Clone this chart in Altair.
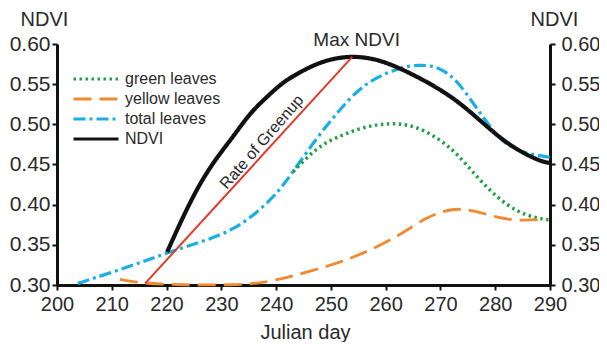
import altair as alt
import pandas as pd

# ---- data ----
ndvi_day = [220.1, 223.0, 226.1, 229.2, 232.1, 235.2, 238.3, 241.3, 244.4, 247.5, 251.1,
            254.8, 259.0, 263.2, 268.1, 273.0, 277.2, 281.4, 285.1, 288.7, 290.0]
ndvi_val = [0.341, 0.385, 0.427, 0.459, 0.484, 0.514, 0.534, 0.553, 0.565, 0.576, 0.583,
            0.585, 0.580, 0.568, 0.551, 0.530, 0.505, 0.480, 0.464, 0.453, 0.452]

total_day = [203.8, 209.7, 215.7, 220.1, 226.1, 232.1, 236.5, 240.2, 243.1, 247.5, 251.1,
             255.9, 262.1, 266.3, 269.9, 273.0, 275.9, 278.5, 281.4, 285.1, 290.0]
total_val = [0.302, 0.315, 0.329, 0.340, 0.353, 0.368, 0.390, 0.414, 0.441, 0.484, 0.514,
             0.551, 0.570, 0.575, 0.571, 0.555, 0.527, 0.502, 0.477, 0.464, 0.459]

green_day = [243.1, 247.5, 251.1, 255.9, 260.8, 265.0, 269.4, 273.0, 276.7, 280.3, 284.0, 287.6, 290.0]
green_val = [0.441, 0.472, 0.484, 0.497, 0.502, 0.499, 0.484, 0.464, 0.434, 0.409, 0.391, 0.383, 0.381]

yellow_day = [211.5, 215.7, 223.0, 232.1, 237.1, 242.5, 250.4, 256.6, 262.6, 267.5, 272.3,
              275.9, 280.9, 284.5, 289.4]
yellow_val = [0.307, 0.302, 0.300, 0.300, 0.302, 0.310, 0.325, 0.341, 0.362, 0.385, 0.396,
              0.393, 0.383, 0.380, 0.382]

greenup_day = [216.1, 253.9]
greenup_val = [0.302, 0.584]

series_order = ["green leaves", "yellow leaves", "total leaves", "NDVI"]
series_colors = ["#22a043", "#f08a32", "#1aaee6", "#111111"]
series_dash = [[2.5, 3.5], [18, 8], [12, 4, 3, 4], [1, 0]]
series_width = [3.5, 2.8, 3.2, 4.2]

y_ticks = [0.30, 0.35, 0.40, 0.45, 0.50, 0.55, 0.60]
x_ticks = [200, 210, 220, 230, 240, 250, 260, 270, 280, 290]

annot_text = ["Max NDVI", "Rate of Greenup"]
annot_day = [254.7, 237.4]
annot_val = [0.605, 0.478]

# ---- tables ----
rows = []
for name, d, v in [("NDVI", ndvi_day, ndvi_val), ("total leaves", total_day, total_val),
                   ("green leaves", green_day, green_val), ("yellow leaves", yellow_day, yellow_val)]:
    for dd, vv in zip(d, v):
        rows.append({"series": name, "day": dd, "ndvi": vv})
df = pd.DataFrame(rows)
df_red = pd.DataFrame({"day": greenup_day, "ndvi": greenup_val})
df_max = pd.DataFrame({"t": [annot_text[0]], "day": [annot_day[0]], "ndvi": [annot_val[0]]})
df_rate = pd.DataFrame({"t": [annot_text[1]], "day": [annot_day[1]], "ndvi": [annot_val[1]]})

FONT = "Liberation Sans"
TXT = "#2a2a2a"

xscale = alt.Scale(domain=[200, 290], nice=False, zero=False)
yscale = alt.Scale(domain=[0.30, 0.60], nice=False, zero=False)

x_enc = alt.X("day:Q", scale=xscale,
              axis=alt.Axis(values=x_ticks, title="Julian day", labelFontSize=20,
                            labelFlush=False, titleX=248, titleY=53, titleAlign="center",
                            titleBaseline="alphabetic", labelPadding=4))
y_plain = alt.Y("ndvi:Q", scale=yscale, axis=None)

legend = alt.Legend(title=None, orient="none", legendX=28, legendY=24,
                    symbolType="M-2.5,0H2.5", symbolSize=324, labelFontSize=16,
                    labelFont=FONT, labelColor=TXT, labelOffset=18, rowPadding=1,
                    padding=0, symbolStrokeWidth=3.2)

color_enc = alt.Color("series:N", scale=alt.Scale(domain=series_order, range=series_colors),
                      legend=legend)
dash_enc = alt.StrokeDash("series:N", scale=alt.Scale(domain=series_order, range=series_dash),
                          legend=legend)

layers = []
for name, w in zip(["total leaves", "green leaves", "yellow leaves", "NDVI"],
                   [series_width[2], series_width[0], series_width[1], series_width[3]]):
    layers.append(
        alt.Chart(df).transform_filter(alt.datum.series == name)
        .mark_line(interpolate="basis", strokeWidth=w, strokeCap="butt")
        .encode(x=x_enc, y=y_plain, color=color_enc, strokeDash=dash_enc, order=alt.Order("day:Q"))
    )

red = alt.Chart(df_red).mark_line(color="#e23a28", strokeWidth=2).encode(x=x_enc, y=y_plain)

max_txt = alt.Chart(df_max).mark_text(fontSize=19, font=FONT, color=TXT, baseline="middle",
                                      align="center").encode(x=x_enc, y=y_plain, text="t:N")
rate_txt = alt.Chart(df_rate).mark_text(fontSize=16, font=FONT, color=TXT, baseline="middle",
                                        align="center", angle=311).encode(x=x_enc, y=y_plain, text="t:N")

main = alt.layer(*layers, red, max_txt, rate_txt)

left = alt.Chart(df_red).mark_line(opacity=0).encode(
    x=x_enc,
    y=alt.Y("ndvi:Q", scale=yscale,
            axis=alt.Axis(values=y_ticks, format=".2f", title="NDVI", orient="left",
                          titleAngle=0, titleX=-13, titleY=-19, titleAlign="center",
                          titleBaseline="alphabetic", labelFontSize=21, labelPadding=2,
                          labelFlush=False)),
)

right = alt.Chart(df_red).mark_line(opacity=0).encode(
    x=x_enc,
    y=alt.Y("ndvi:Q", scale=yscale,
            axis=alt.Axis(values=y_ticks, format=".2f", title="NDVI", orient="right",
                          titleAngle=0, titleX=4, titleY=-19, titleAlign="center",
                          titleBaseline="alphabetic", labelFontSize=20, labelPadding=6,
                          labelFlush=False)),
)

chart = alt.layer(left, main, right).resolve_scale(y="independent").properties(
    width=493, height=241,
    autosize=alt.AutoSizeParams(type="none"),
    padding={"left": 49, "top": 36, "right": 49, "bottom": 57},
    background="white",
).configure_view(stroke=None).configure_axis(
    grid=False, domainColor="#111111", domainWidth=3, tickColor="#111111", tickWidth=2,
    tickSize=5, labelFont=FONT, titleFont=FONT, labelColor=TXT, titleColor=TXT,
    titleFontSize=20, titleFontWeight="normal",
)

chart.save("out.html", embed_options={"renderer": "svg", "actions": False})
